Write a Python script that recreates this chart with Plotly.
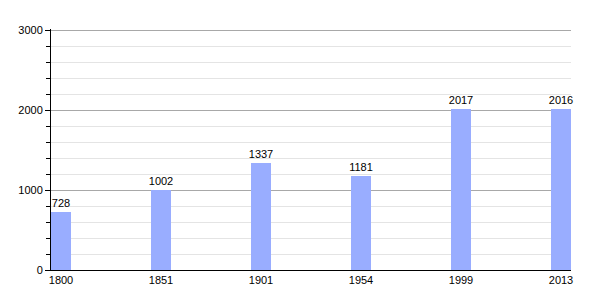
import plotly.graph_objects as go

years = ["1800", "1851", "1901", "1954", "1999", "2013"]
population = [728, 1002, 1337, 1181, 2017, 2016]

fig = go.Figure(go.Bar(
    x=years, y=population,
    width=0.2,
    marker=dict(color="#99adff", line=dict(width=0)),
    text=[str(v) for v in population],
    textposition="outside",
    constraintext="none",
    textfont=dict(family="Liberation Sans, Arial", size=11, color="#000000"),
    cliponaxis=False,
))

fig.update_layout(
    template="none",
    width=600, height=300,
    margin=dict(l=51, r=29, t=29, b=30),
    paper_bgcolor="white", plot_bgcolor="white",
    showlegend=False,
    font=dict(family="Liberation Sans, Arial", size=11, color="#000000"),
    bargap=0,
)
fig.update_xaxes(
    type="category", range=[-0.1, 5.1],
    showgrid=False, showline=True, linecolor="black", linewidth=1,
    ticks="", ticklen=0, tickfont=dict(size=11, color="#000000"),
    zeroline=False,
)
fig.update_yaxes(
    range=[0, 3013], tickvals=[0, 1000, 2000, 3000],
    showgrid=True, gridcolor="#a8a8a8", gridwidth=1,
    showline=True, linecolor="black", linewidth=1,
    ticks="outside", ticklen=5, tickcolor="black",
    minor=dict(dtick=200, showgrid=True, gridcolor="#e4e4e4", ticks="outside", ticklen=4, tickcolor="black"),
    zeroline=False, tickfont=dict(size=11, color="#000000"),
)

fig.write_html("out.html")
